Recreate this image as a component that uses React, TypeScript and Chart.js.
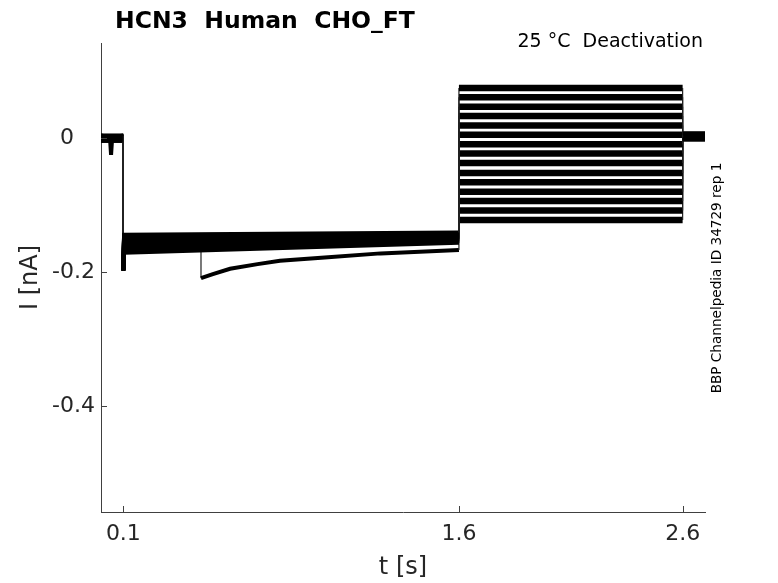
import React, { useEffect, useRef } from 'react';
import { Chart, registerables } from 'chart.js';

Chart.register(...registerables);

// ---- data ----
const xTicks = [0.1, 1.6, 2.6];
const yTicks = [0, -0.2, -0.4];

// phase boundaries (s)
const tStart = 0;
const tHoldOn = 0.1;
const tHoldSettle = 0.103;
const tStepOn = 1.6;
const tStepOff = 2.6;
const tEnd = 2.7;

// baseline before the holding step (nA), one per sweep
const baseLevels = [0.004, -0.003, 0.003, -0.001, 0.001, -0.004, 0.002, 0.0, -0.002, 0.004, -0.001, 0.001, -0.004, 0.0, 0.003];
// capacitive spike at the start of the holding step (nA)
const spikeLevels = [-0.198, -0.196, -0.197, -0.195, -0.198, -0.194, -0.197, -0.196, -0.195, -0.198, -0.196, -0.197, -0.195, -0.196, -0.198];
// holding current at start / end of the 0.1–1.6 s holding step (nA)
const holdStart = [-0.144, -0.146, -0.145, -0.148, -0.147, -0.150, -0.149, -0.152, -0.155, -0.158, -0.160, -0.163, -0.166, -0.171, -0.165];
const holdEnd = [-0.141, -0.142, -0.143, -0.143, -0.144, -0.145, -0.146, -0.147, -0.148, -0.149, -0.150, -0.151, -0.153, -0.156, -0.167];
// current during the 1.6–2.6 s test step (nA)
const stepLevels = [0.075, 0.061, 0.047, 0.033, 0.019, 0.005, -0.009, -0.023, -0.037, -0.052, -0.066, -0.080, -0.094, -0.108, -0.122];
// current after the test step (nA)
const tailLevels = [0.007, -0.001, 0.006, 0.002, 0.005, -0.002, 0.003, 0.007, 0.0, 0.004, 0.002, 0.005, -0.002, 0.003, 0.006];

// small dip in the baseline of the first sweep
const dipT = [0.04, 0.045, 0.05];
const dipI = [0.001, -0.025, 0.001];

// one sweep with a late jump and slow recovery during the holding step
const decaySweep = 14;
const decayT = [0.447, 0.447, 0.5, 0.577, 0.7, 0.8, 1.0, 1.25, 1.4, 1.6];
const decayI = [-0.165, -0.209, -0.203, -0.195, -0.188, -0.183, -0.178, -0.172, -0.170, -0.167];

const titleText = 'HCN3  Human  CHO_FT';
const subtitleText = '25 °C  Deactivation';
const sideText = 'BBP Channelpedia ID 34729 rep 1';
const xTitle = 't [s]';
const yTitle = 'I [nA]';

// ---- styling ----
const FONT = '"DejaVu Sans", "Liberation Sans", sans-serif';
const axisColor = '#404040';
const textColor = '#262626';

type P = { x: number; y: number };

function buildSweep(i: number): P[] {
  const pts: P[] = [];
  pts.push({ x: tStart, y: baseLevels[i] });
  if (i === 0) {
    for (let k = 0; k < dipT.length; k++) pts.push({ x: dipT[k], y: dipI[k] });
  }
  pts.push({ x: tHoldOn, y: baseLevels[i] });
  pts.push({ x: tHoldOn, y: spikeLevels[i] });
  pts.push({ x: tHoldSettle, y: holdStart[i] });
  if (i === decaySweep) {
    for (let k = 0; k < decayT.length; k++) pts.push({ x: decayT[k], y: decayI[k] });
  } else {
    pts.push({ x: tStepOn, y: holdEnd[i] });
  }
  pts.push({ x: tStepOn, y: stepLevels[i] });
  pts.push({ x: tStepOff, y: stepLevels[i] });
  pts.push({ x: tStepOff, y: tailLevels[i] });
  pts.push({ x: tEnd, y: tailLevels[i] });
  return pts;
}

function segWidth(c: any): number {
  const x0 = c.p0.parsed.x;
  const x1 = c.p1.parsed.x;
  if (x0 === x1) return 1.2;
  if (x0 >= tStepOn && x1 <= tStepOff) return 6.5;
  return 4;
}

const decorPlugin = {
  id: 'decor',
  afterDraw(chart: any) {
    const { ctx, chartArea, scales } = chart;
    ctx.save();
    ctx.strokeStyle = axisColor;
    ctx.lineWidth = 1;
    xTicks.forEach((v) => {
      const px = Math.round(scales.x.getPixelForValue(v)) + 0.5;
      ctx.beginPath();
      ctx.moveTo(px, chartArea.bottom);
      ctx.lineTo(px, chartArea.bottom - 6);
      ctx.stroke();
    });
    yTicks.forEach((v) => {
      const py = Math.round(scales.y.getPixelForValue(v)) + 0.5;
      ctx.beginPath();
      ctx.moveTo(chartArea.left, py);
      ctx.lineTo(chartArea.left + 6, py);
      ctx.stroke();
    });

    ctx.fillStyle = '#000';
    ctx.textBaseline = 'alphabetic';
    ctx.textAlign = 'left';
    ctx.font = `bold 23.5px ${FONT}`;
    ctx.fillText(titleText, 115, 28);

    ctx.textAlign = 'right';
    ctx.font = `19px ${FONT}`;
    ctx.fillText(subtitleText, 703, 47);

    ctx.translate(717, 278);
    ctx.rotate(-Math.PI / 2);
    ctx.textAlign = 'center';
    ctx.textBaseline = 'middle';
    ctx.font = `13.6px ${FONT}`;
    ctx.fillText(sideText, 0, 0);
    ctx.restore();
  },
};

export default function App() {
  const ref = useRef<HTMLCanvasElement | null>(null);

  useEffect(() => {
    if (!ref.current) return;
    const datasets = stepLevels.map((_, i) => ({
      data: buildSweep(i),
      borderColor: '#000',
      borderWidth: 4,
      pointRadius: 0,
      tension: 0,
      fill: false,
      segment: {
        borderWidth: segWidth,
        borderColor: (c: any) => (c.p0.parsed.x === c.p1.parsed.x ? '#222' : '#000'),
      },
    }));

    const chart = new Chart(ref.current, {
      type: 'line',
      data: { datasets },
      options: {
        animation: false,
        responsive: false,
        devicePixelRatio: 1,
        layout: { padding: { top: 43, right: 73, left: 0, bottom: 0 } },
        plugins: { legend: { display: false }, tooltip: { enabled: false } },
        scales: {
          x: {
            type: 'linear',
            min: 0,
            max: 2.7,
            afterBuildTicks: (s: any) => {
              s.ticks = xTicks.map((v) => ({ value: v }));
            },
            afterFit: (s: any) => {
              s.height = 71;
            },
            ticks: {
              autoSkip: false,
              maxRotation: 0,
              padding: 9,
              color: textColor,
              font: { family: FONT, size: 22 },
              callback: (v: any) => String(v),
            },
            grid: { display: false, drawTicks: false },
            border: { display: true, color: axisColor, width: 1 },
            title: {
              display: true,
              text: xTitle,
              color: textColor,
              font: { family: FONT, size: 24 },
              padding: { top: 1, bottom: 1 },
            },
          },
          y: {
            type: 'linear',
            min: -0.558,
            max: 0.142,
            afterBuildTicks: (s: any) => {
              s.ticks = yTicks.map((v) => ({ value: v }));
            },
            afterFit: (s: any) => {
              s.width = 101;
            },
            ticks: {
              autoSkip: false,
              padding: 6,
              color: textColor,
              font: { family: FONT, size: 22 },
              callback: (v: any) => (v === 0 ? '0   ' : Number(v).toFixed(1)),
            },
            grid: { display: false, drawTicks: false },
            border: { display: true, color: axisColor, width: 1 },
            title: {
              display: true,
              text: yTitle,
              color: textColor,
              font: { family: FONT, size: 24 },
              padding: { top: 16, bottom: 16 },
            },
          },
        },
      },
      plugins: [decorPlugin],
    } as any);
    return () => chart.destroy();
  }, []);

  return (
    <div style={{ position: 'fixed', left: 0, top: 0, width: 778, height: 583, background: '#fff' }}>
      <canvas ref={ref} width={778} height={583} style={{ width: 778, height: 583, display: 'block' }} />
    </div>
  );
}
